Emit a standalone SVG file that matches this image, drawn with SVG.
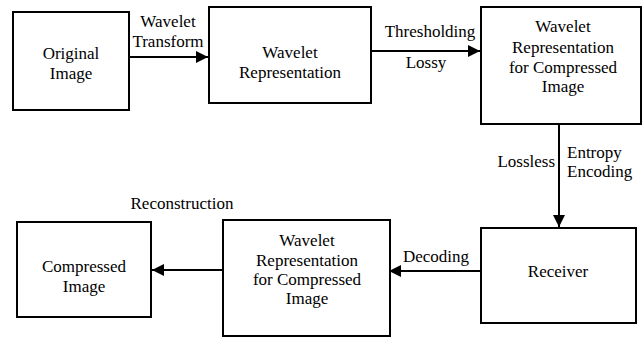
<svg xmlns="http://www.w3.org/2000/svg" width="642" height="337" viewBox="0 0 642 337">
<defs>
<marker id="ah" markerWidth="12" markerHeight="12" refX="12" refY="6" orient="auto" markerUnits="userSpaceOnUse">
<path d="M0,0 L12,6 L0,12 Z" fill="#000"/>
</marker>
<style>
.box{fill:#fff;stroke:#000;stroke-width:2}
.c{text-anchor:middle}
.e{stroke:#000;stroke-width:2;fill:none}
</style>
</defs>
<rect width="642" height="337" fill="#fff"/>
<g font-family="Liberation Serif, Times New Roman, serif" font-size="17" fill="#000">
<g id="n1"><rect class="box" x="13" y="12" width="116" height="98"/>
<text class="c" x="71" y="59">Original</text><text class="c" x="71" y="79">Image</text></g>
<g id="n2"><rect class="box" x="209" y="7" width="162" height="96"/>
<text class="c" x="290" y="58">Wavelet</text><text class="c" x="290" y="78">Representation</text></g>
<g id="n3"><rect class="box" x="481" y="7" width="160" height="117"/>
<text class="c" x="563" y="32">Wavelet</text><text class="c" x="563" y="53">Representation</text><text class="c" x="563" y="73">for Compressed</text><text class="c" x="563" y="92">Image</text></g>
<g id="n4"><rect class="box" x="481" y="228" width="155" height="95"/>
<text class="c" x="558" y="277">Receiver</text></g>
<g id="n5"><rect class="box" x="223" y="220" width="167" height="116"/>
<text class="c" x="307" y="246">Wavelet</text><text class="c" x="307" y="266">Representation</text><text class="c" x="307" y="285">for Compressed</text><text class="c" x="307" y="304">Image</text></g>
<g id="n6"><rect class="box" x="17" y="222" width="134" height="95"/>
<text class="c" x="84" y="272">Compressed</text><text class="c" x="84" y="292">Image</text></g>
<g id="edges">
<line class="e" x1="129" y1="57" x2="208" y2="57" marker-end="url(#ah)"/>
<text class="c" x="168" y="27">Wavelet</text><text class="c" x="168" y="47">Transform</text>
<line class="e" x1="371" y1="51" x2="480" y2="51" marker-end="url(#ah)"/>
<text class="c" x="430" y="37">Thresholding</text><text class="c" x="426" y="68">Lossy</text>
<line class="e" x1="559" y1="124" x2="559" y2="227" marker-end="url(#ah)"/>
<text x="555" y="167" text-anchor="end">Lossless</text>
<text x="567" y="158">Entropy</text><text x="567" y="177">Encoding</text>
<line class="e" x1="481" y1="271" x2="389" y2="271" marker-end="url(#ah)"/>
<text class="c" x="436" y="262">Decoding</text>
<line class="e" x1="223" y1="270" x2="152" y2="270" marker-end="url(#ah)"/>
<text class="c" x="182" y="209">Reconstruction</text>
</g>
</g>
</svg>
